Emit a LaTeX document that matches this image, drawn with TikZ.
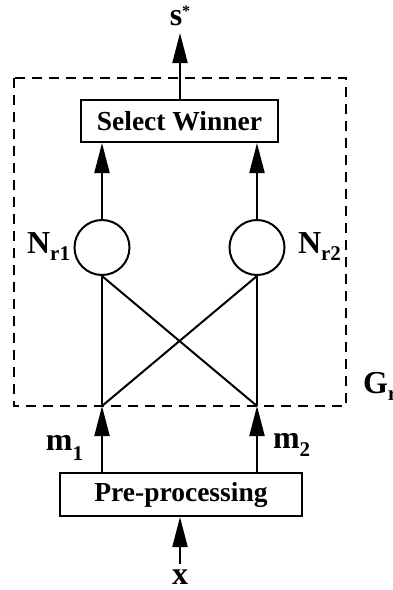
\documentclass[tikz,border=0pt]{standalone}
\usepackage{fontspec}
\setmainfont{Liberation Serif}
\usetikzlibrary{arrows.meta}
\newcommand{\lsub}[2][7pt]{\raisebox{-#1}{\fontsize{21}{21}\selectfont #2}}
\begin{document}
\begin{tikzpicture}[x=1pt,y=-1pt, line width=2pt,
  arr/.style={-{Triangle[length=30pt,width=15pt]}},
  blk/.style={draw, inner sep=0, font=\fontsize{27.5}{27.5}\selectfont\bfseries},
  lbl/.style={inner sep=0, font=\fontsize{32}{32}\selectfont\bfseries},
  neuron/.style={draw, circle, minimum size=55pt, inner sep=0},
  grp/.style={dash pattern=on 10pt off 7pt}]
\useasboundingbox (0,0) rectangle (393,590);
\clip (0,0) rectangle (393,590);
% group box
\draw[grp] (14,78) rectangle (346,406);
% blocks
\node[blk, minimum width=197pt, minimum height=42pt] (sw) at (179.5,121) {Select Winner};
\node[blk, minimum width=242pt, minimum height=43pt] (pp) at (181,494.5) {Pre-processing};
% neurons
\node[neuron] (n1) at (102,247.5) {};
\node[neuron] (n2) at (257,247.5) {};
\coordinate (j1) at (102,406);
\coordinate (j2) at (257,406);
\coordinate (top) at (180,33);
\coordinate (xin) at (180,564);
% labels
\node[lbl, anchor=base east] (l1) at (71,253) {N\lsub{r1}};
\node[lbl, anchor=base west] (l2) at (297,253) {N\lsub{r2}};
\node[lbl, anchor=base west] (lg) at (362,393) {G\lsub{r}};
\node[lbl, anchor=base] (ls) at (180,25) {s\raisebox{9pt}{\fontsize{16}{16}\selectfont *}};
\node[lbl, anchor=base east] (lm1) at (84,450) {m\lsub[10pt]{1}};
\node[lbl, anchor=base west] (lm2) at (272,448) {m\lsub[8pt]{2}};
\node[lbl, anchor=base] (lx) at (180,584) {x};
% connectors
\draw[arr] (sw.north -| top) -- (top);
\draw[arr] (n1.north) -- (n1 |- sw.south);
\draw[arr] (n2.north) -- (n2 |- sw.south);
\draw (n1.south) -- (j1);
\draw (n1.south) -- (j2);
\draw (n2.south) -- (j2);
\draw (n2.south) -- (j1);
\draw[arr] (pp.north -| j1) -- (j1);
\draw[arr] (pp.north -| j2) -- (j2);
\draw[arr] (xin) -- (pp.south -| xin);
\end{tikzpicture}
\end{document}
